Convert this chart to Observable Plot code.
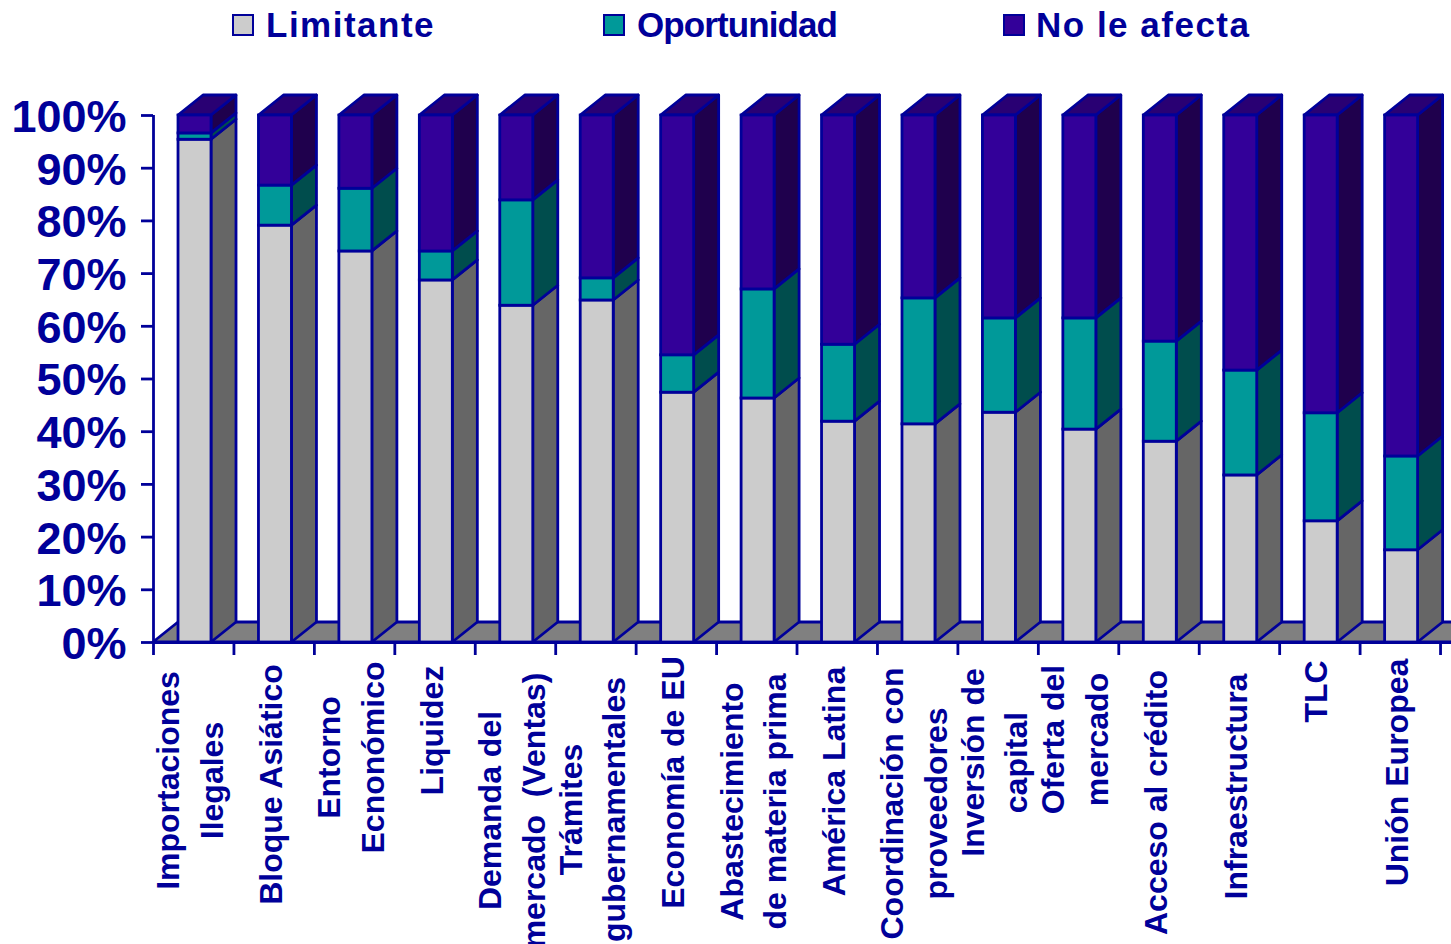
<!DOCTYPE html>
<html>
<head>
<meta charset="utf-8">
<script src="https://cdn.jsdelivr.net/npm/d3@7"></script>
<script src="https://cdn.jsdelivr.net/npm/@observablehq/plot@0.6"></script>
<style>
html,body{margin:0;padding:0;background:#fff;overflow:hidden;width:1451px;height:944px;}
#chart{position:absolute;left:0;top:0;}
.lg{position:absolute;font:bold 35px "Liberation Sans",Arial,sans-serif;color:#000099;white-space:nowrap;line-height:40px;top:5px;}
.sw{position:absolute;width:18px;height:18px;border:2.5px solid #000099;top:14px;}
</style>
</head>
<body>
<div id="chart"></div>
<div id="legend"></div>
<script>
const categories = [
  "Importaciones\nIlegales","Bloque Asiático","Entorno\nEcnonómico","Liquidez",
  "Demanda del\nmercado\u00A0 (Ventas)","Trámites\ngubernamentales","Economía de EU",
  "Abastecimiento\nde materia prima","América Latina","Coordinación con\nproveedores",
  "Inversión de\ncapital","Oferta del\nmercado","Acceso al crédito","Infraestructura","TLC","Unión Europea"
];
const limitante   = [95.4,79.1,74.2,68.7,63.9,64.9,47.4,46.3,41.9,41.4,43.6,40.4,38.1,31.7,23.0,17.5];
const oportunidad = [1.2,7.6,11.9,5.5,20.0,4.2,7.1,20.7,14.6,23.9,17.9,21.1,19.0,19.9,20.5,17.8];
const noLeAfecta  = [3.4,13.3,13.9,25.8,16.1,30.9,45.5,33.0,43.5,34.7,38.5,38.5,42.9,48.4,56.5,64.7];
const yTicks = [0,10,20,30,40,50,60,70,80,90,100];

// label placement along the vertical, px below the axis
const labelShift = [138,142,115,88,168,167,140,159,139,161,120,97,160,144,49,130];

const INK = "#000099";
const series = [
  {name:"Limitante",   values:limitante,   front:"#CCCCCC", side:"#666666"},
  {name:"Oportunidad", values:oportunidad, front:"#009999", side:"#004D4D"},
  {name:"No le afecta",values:noLeAfecta,  front:"#330099", side:"#1F004D"}
];
const topColor = "#290073";

// 3D projection expressed in scale units
const depthX = 0.311, depthY = 3.795, barL = 0.311, barR = 0.721;
const xMax = (1451-153)/80.44;
const sw = 2.8;

const segs = [];
categories.forEach((c,i)=>{
  let base = 0;
  series.forEach((s,k)=>{
    const top = k===2 ? 100 : base + s.values[i];
    segs.push({i,k,a:base,b:top,x1:i+barL,x2:i+barR});
    base = top;
  });
});

const floor = [{y:0,x1:0,x2:xMax+1},{y:depthY,x1:depthX,x2:xMax+1+depthX}];

const marks = [
  Plot.areaX(floor,{y:"y",x1:"x1",x2:"x2",fill:"#808080",stroke:INK,strokeWidth:sw,curve:"linear"})
];
series.forEach((s,k)=>{
  const sideRows = segs.filter(d=>d.k===k).flatMap(d=>[
    {z:d.i,x:d.x2,y1:d.a,y2:d.b},
    {z:d.i,x:d.x2+depthX,y1:d.a+depthY,y2:d.b+depthY}
  ]);
  marks.push(Plot.areaY(sideRows,{x:"x",y1:"y1",y2:"y2",z:"z",fill:s.side,stroke:INK,strokeWidth:sw,strokeLinejoin:"round"}));
});
const topRows = categories.flatMap((c,i)=>[
  {z:i,y:100,x1:i+barL,x2:i+barR},
  {z:i,y:100+depthY,x1:i+barL+depthX,x2:i+barR+depthX}
]);
marks.push(Plot.areaX(topRows,{y:"y",x1:"x1",x2:"x2",z:"z",fill:topColor,stroke:INK,strokeWidth:sw}));
series.forEach((s,k)=>{
  marks.push(Plot.rect(segs.filter(d=>d.k===k),{x1:"x1",x2:"x2",y1:"a",y2:"b",fill:s.front,stroke:INK,strokeWidth:sw}));
});
marks.push(
  Plot.ruleY([0],{x1:0,x2:xMax,stroke:INK,strokeWidth:sw+0.3}),
  Plot.ruleX([0],{y1:0,y2:100,stroke:INK,strokeWidth:sw}),
  Plot.axisY({ticks:yTicks,tickFormat:()=>"",tickSize:12,stroke:INK,strokeWidth:sw,label:null}),
  Plot.axisY({ticks:yTicks,tickFormat:d=>d+"%",tickSize:0,tickPadding:27,dy:2,fontSize:45,fontWeight:"bold",fill:INK,label:null}),
  Plot.axisX({ticks:d3.range(0,17),tickFormat:()=>"",tickSize:13,stroke:INK,strokeWidth:sw,label:null})
);
categories.forEach((c,i)=>{
  marks.push(Plot.text([c],{
    x:()=>i+0.42, y:()=>0, text:d=>d, dy:labelShift[i],
    rotate:-90, textAnchor:"middle", lineAnchor:"middle", lineHeight:1.36,
    fontSize:32, fontWeight:"bold", fill:INK
  }));
});

const svg = Plot.plot({
  width:1451,height:944,
  marginLeft:153,marginRight:0,marginTop:115,marginBottom:302,
  x:{domain:[0,xMax],nice:false,label:null},
  y:{domain:[0,100],nice:false,label:null},
  style:{fontFamily:'"Liberation Sans",Arial,sans-serif',fontWeight:"bold",background:"#fff",color:INK,overflow:"hidden"},
  marks
});
document.getElementById("chart").append(svg);

const legendItems = [
  {name:series[0].name,color:series[0].front,sx:232,tx:266,ls:"1.5px"},
  {name:series[1].name,color:series[1].front,sx:603,tx:637,ls:"-0.9px"},
  {name:series[2].name,color:series[2].front,sx:1003,tx:1036,ls:"1.5px"}
];
const lg = document.getElementById("legend");
legendItems.forEach(it=>{
  const b=document.createElement("div");b.className="sw";b.style.left=it.sx+"px";b.style.background=it.color;lg.append(b);
  const t=document.createElement("div");t.className="lg";t.style.left=it.tx+"px";t.style.letterSpacing=it.ls;t.textContent=it.name;lg.append(t);
});
</script>
</body>
</html>
